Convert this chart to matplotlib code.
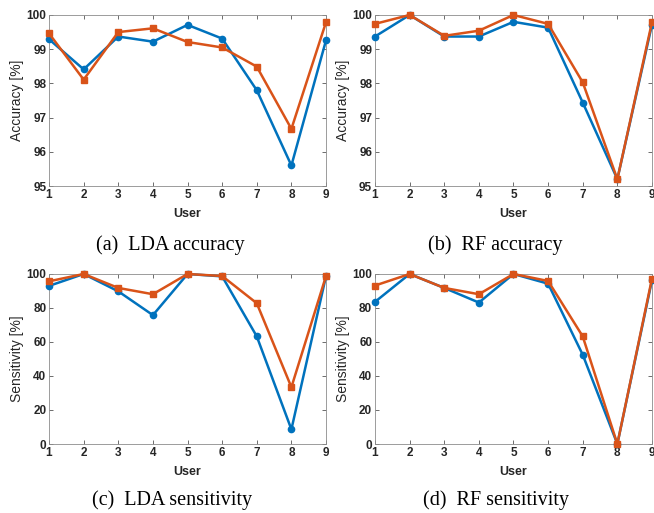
import numpy as np
import matplotlib.pyplot as plt

users = np.arange(1, 10)

lda_acc_blue = [99.29, 98.41, 99.37, 99.22, 99.71, 99.31, 97.80, 95.60, 99.26]
lda_acc_orange = [99.46, 98.11, 99.50, 99.61, 99.21, 99.05, 98.49, 96.67, 99.79]
rf_acc_blue = [99.37, 100.0, 99.37, 99.37, 99.80, 99.63, 97.44, 95.20, 99.72]
rf_acc_orange = [99.74, 100.0, 99.39, 99.54, 100.0, 99.74, 98.03, 95.20, 99.79]
lda_sens_blue = [93.0, 100.0, 89.8, 75.8, 100.0, 98.6, 63.3, 8.6, 98.8]
lda_sens_orange = [95.7, 100.0, 91.8, 88.1, 100.0, 98.8, 82.8, 33.4, 98.8]
rf_sens_blue = [83.6, 100.0, 91.8, 83.2, 100.0, 94.3, 52.5, 0.0, 96.3]
rf_sens_orange = [93.2, 100.0, 91.8, 88.1, 100.0, 95.9, 63.3, 0.0, 97.3]

captions = ['(a)  LDA accuracy', '(b)  RF accuracy',
            '(c)  LDA sensitivity', '(d)  RF sensitivity']

BLUE = '#0072BD'
ORANGE = '#D95319'
TXT = '#262626'

fig = plt.figure(figsize=(6.54, 5.13), dpi=100)

panels = [
    ([0.075, 0.6374, 0.4235, 0.3334], lda_acc_blue, lda_acc_orange, 'Accuracy [%]', (95, 100), [95, 96, 97, 98, 99, 100], (0.260, 0.522)),
    ([0.5734, 0.6374, 0.4235, 0.3334], rf_acc_blue, rf_acc_orange, 'Accuracy [%]', (95, 100), [95, 96, 97, 98, 99, 100], (0.757, 0.522)),
    ([0.075, 0.1345, 0.4235, 0.3314], lda_sens_blue, lda_sens_orange, 'Sensitivity [%]', (0, 100), [0, 20, 40, 60, 80, 100], (0.263, 0.026)),
    ([0.5734, 0.1345, 0.4235, 0.3314], rf_sens_blue, rf_sens_orange, 'Sensitivity [%]', (0, 100), [0, 20, 40, 60, 80, 100], (0.759, 0.026)),
]

for (rect, b, o, ylab, ylim, yt, cpos), cap in zip(panels, captions):
    ax = fig.add_axes(rect)
    ax.plot(users, b, color=BLUE, lw=1.8, marker='o', ms=4.5, clip_on=False, zorder=3)
    ax.plot(users, o, color=ORANGE, lw=1.8, marker='s', ms=4.5, clip_on=False, zorder=4)
    ax.set_xlim(1, 9)
    ax.set_ylim(*ylim)
    ax.set_xticks(users)
    ax.set_yticks(yt)
    ax.tick_params(direction='in', top=True, right=True, length=3, width=0.6,
                   color='#555555', labelsize=8.5, labelcolor=TXT, pad=2)
    for lab in ax.get_xticklabels() + ax.get_yticklabels():
        lab.set_fontweight('bold')
        lab.set_family('Liberation Sans')
    for s in ax.spines.values():
        s.set_color('#8c8c8c')
        s.set_linewidth(0.6)
    ax.set_xlabel('User', fontsize=9, fontweight='bold', family='Liberation Sans',
                  color=TXT, labelpad=5)
    ax.set_ylabel(ylab, fontsize=10, family='Liberation Sans', color=TXT, labelpad=2)
    fig.text(cpos[0], cpos[1], cap, ha='center', va='center',
             fontsize=14.5, family='Liberation Serif')

fig.savefig('out.png', dpi=100)
